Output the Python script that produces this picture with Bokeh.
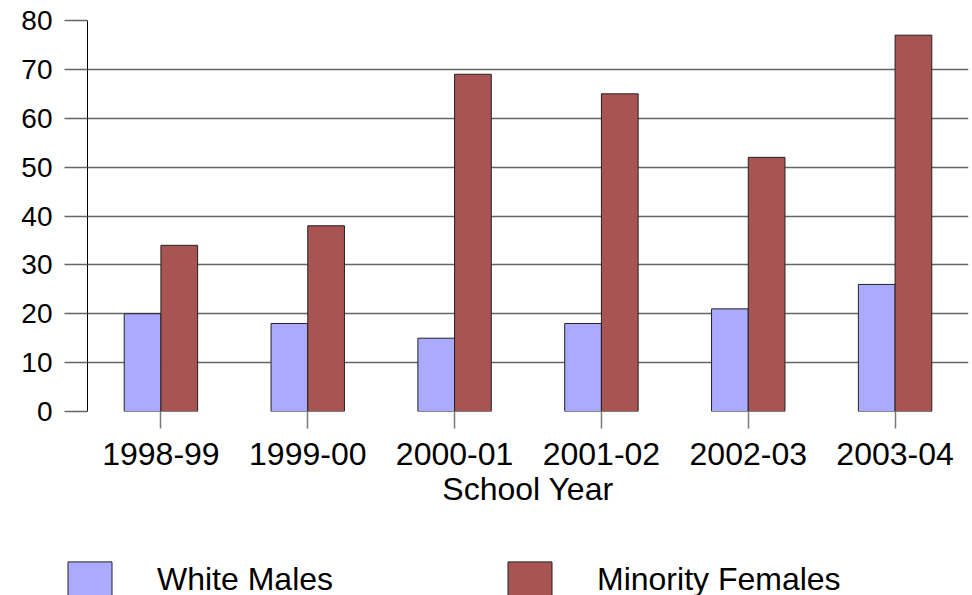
from bokeh.plotting import figure
from bokeh.layouts import column, row
from bokeh.models import ColumnDataSource, FactorRange, Legend, LegendItem, FixedTicker, Range1d
from bokeh.transform import dodge
from bokeh.embed import file_html
from bokeh.resources import INLINE

# School years and counts per group
years = ["1998-99", "1999-00", "2000-01", "2001-02", "2002-03", "2003-04"]
white_males = [20, 18, 15, 18, 21, 26]
minority_females = [34, 38, 69, 65, 52, 77]
y_ticks = [0, 10, 20, 30, 40, 50, 60, 70, 80]
series_names = ["White Males", "Minority Females"]

FONT = "Liberation Sans"
BLUE = "#AAAAFF"
RED = "#A85452"
EDGE = "#222222"

source = ColumnDataSource(data=dict(years=years, wm=white_males, mf=minority_females))

p = figure(
    x_range=FactorRange(*years, range_padding=0),
    y_range=(0, 80),
    width=972, height=550,
    min_border_left=87, min_border_right=4, min_border_top=20, min_border_bottom=139,
    toolbar_location=None, output_backend="svg",
)
p.outline_line_color = None

p.vbar(x=dodge("years", -0.125, range=p.x_range), top="wm", width=0.25,
       source=source, fill_color=BLUE, line_color=EDGE, line_width=1)
p.vbar(x=dodge("years", 0.125, range=p.x_range), top="mf", width=0.25,
       source=source, fill_color=RED, line_color=EDGE, line_width=1)

# horizontal grid
p.xgrid.grid_line_color = None
p.ygrid.grid_line_color = "#666666"
p.ygrid.grid_line_width = 1.5
p.ygrid.ticker = FixedTicker(ticks=y_ticks)

# y axis
p.yaxis.ticker = FixedTicker(ticks=y_ticks)
p.yaxis.axis_line_color = "black"
p.yaxis.axis_line_width = 1
p.yaxis.major_tick_out = 23
p.yaxis.major_tick_in = 0
p.yaxis.major_tick_line_color = "#666666"
p.yaxis.major_tick_line_width = 1.5
p.yaxis.minor_tick_line_color = None
p.yaxis.major_label_standoff = 12
p.yaxis.major_label_text_font = FONT
p.yaxis.major_label_text_font_size = "28px"
p.yaxis.major_label_text_color = "black"

# x axis
p.xaxis.axis_line_color = None
p.xaxis.major_tick_out = 17
p.xaxis.major_tick_in = 0
p.xaxis.major_tick_line_color = "#7a7a7a"
p.xaxis.major_tick_line_width = 1.5
p.xaxis.major_label_standoff = 14
p.xaxis.major_label_text_font = FONT
p.xaxis.major_label_text_font_size = "32px"
p.xaxis.major_label_text_color = "black"
p.xaxis.axis_label = "School Year"
p.xaxis.axis_label_text_font = FONT
p.xaxis.axis_label_text_font_size = "32px"
p.xaxis.axis_label_text_font_style = "normal"
p.xaxis.axis_label_text_color = "black"
p.xaxis.axis_label_standoff = 3

# legend strip under the chart
lg = figure(
    width=972, height=45,
    x_range=Range1d(0, 1), y_range=Range1d(0, 1),
    x_axis_type=None, y_axis_type=None,
    min_border_left=0, min_border_right=0, min_border_top=0, min_border_bottom=0,
    toolbar_location=None, output_backend="svg",
)
lg.outline_line_color = None
lg.grid.visible = False
# degenerate placeholders: they draw nothing but carry the series styles for the legend
key_src = ColumnDataSource(data=dict(x=[0.5], y=[0.5]))
k_wm = lg.vbar(x="x", top="y", bottom="y", width=0, source=key_src, fill_color=BLUE, line_color=EDGE)
k_mf = lg.vbar(x="x", top="y", bottom="y", width=0, source=key_src, fill_color=RED, line_color=EDGE)

legend = Legend(
    items=[LegendItem(label=series_names[0], renderers=[k_wm]),
           LegendItem(label=series_names[1], renderers=[k_mf])],
    orientation="horizontal",
    location=(62, -6),
    glyph_width=55, glyph_height=44,
    label_standoff=40, label_width=345, spacing=0,
    padding=0, margin=0,
    border_line_color=None, background_fill_alpha=0,
    label_text_font=FONT, label_text_font_size="32px", label_text_color="black",
)
lg.add_layout(legend, "center")

layout = column(p, row(lg, spacing=0), spacing=0)
open("out.html", "w").write(file_html(layout, INLINE))
